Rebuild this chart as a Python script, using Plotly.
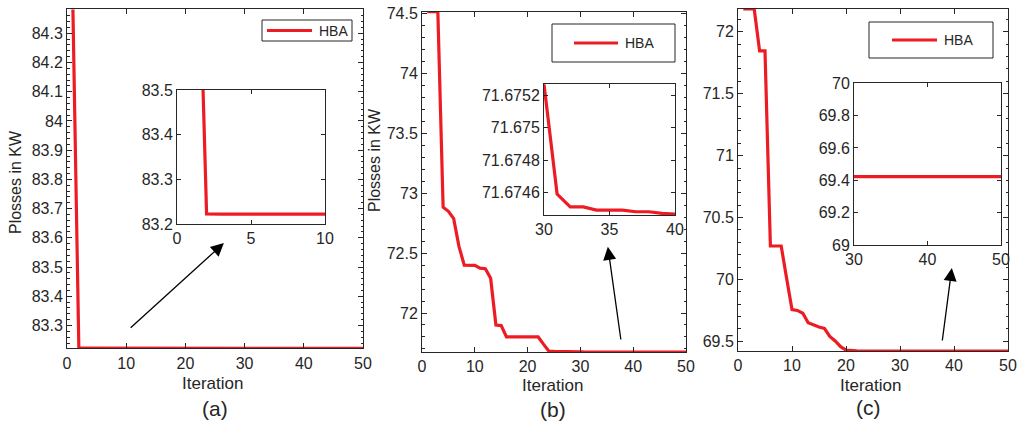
import plotly.graph_objects as go

# ---- data -------------------------------------------------------------
iterations = list(range(1, 51))

# (a) case: power loss per iteration (kW)
loss_a = [84.382, 83.2224, 83.2223, 83.2222, 83.2221, 83.2220, 83.2220, 83.2220, 83.2220, 83.2220,
          83.2220, 83.2220, 83.2220, 83.2220, 83.2220, 83.2220, 83.2220, 83.2220, 83.2220, 83.2220,
          83.2220, 83.2220, 83.2220, 83.2220, 83.2220, 83.2220, 83.2220, 83.2220, 83.2220, 83.2220,
          83.2220, 83.2220, 83.2220, 83.2220, 83.2220, 83.2220, 83.2220, 83.2220, 83.2220, 83.2220,
          83.2220, 83.2220, 83.2220, 83.2220, 83.2220, 83.2220, 83.2220, 83.2220, 83.2220, 83.2220]

# (b) case
loss_b = [74.515, 74.515, 74.515, 72.883, 72.849, 72.788, 72.556, 72.400, 72.399, 72.397,
          72.375, 72.370, 72.290, 71.900, 71.895, 71.800, 71.800, 71.800, 71.800, 71.800,
          71.800, 71.800, 71.740, 71.683, 71.679, 71.677, 71.6762, 71.6758, 71.6755, 71.67527,
          71.67459, 71.67451, 71.67451, 71.67449, 71.67449, 71.67449, 71.67448, 71.67448, 71.67447, 71.67446,
          71.67446, 71.67446, 71.67446, 71.67446, 71.67446, 71.67446, 71.67446, 71.67446, 71.67446, 71.67446]

# (c) case
loss_c = [72.184, 72.184, 72.184, 71.846, 71.846, 70.270, 70.270, 70.270, 70.010, 69.757,
          69.750, 69.727, 69.650, 69.632, 69.616, 69.605, 69.540, 69.503, 69.457, 69.430,
          69.424, 69.423, 69.4225, 69.4223, 69.4223, 69.4223, 69.4223, 69.4223, 69.4223, 69.4223,
          69.4223, 69.4223, 69.4223, 69.4223, 69.4223, 69.4223, 69.4223, 69.4223, 69.4223, 69.4223,
          69.4223, 69.4223, 69.4223, 69.4223, 69.4223, 69.4223, 69.4223, 69.4223, 69.4223, 69.4223]

# tick values / labels
main_x_ticks = [0, 10, 20, 30, 40, 50]
main_x_text = ["0", "10", "20", "30", "40", "50"]

a_y_ticks = [83.3, 83.4, 83.5, 83.6, 83.7, 83.8, 83.9, 84.0, 84.1, 84.2, 84.3]
a_y_text = ["83.3", "83.4", "83.5", "83.6", "83.7", "83.8", "83.9", "84", "84.1", "84.2", "84.3"]
a_in_x_ticks = [0, 5, 10]
a_in_x_text = ["0", "5", "10"]
a_in_y_ticks = [83.2, 83.3, 83.4, 83.5]
a_in_y_text = ["83.2", "83.3", "83.4", "83.5"]

b_y_ticks = [72.0, 72.5, 73.0, 73.5, 74.0, 74.5]
b_y_text = ["72", "72.5", "73", "73.5", "74", "74.5"]
b_in_x_ticks = [30, 35, 40]
b_in_x_text = ["30", "35", "40"]
b_in_y_ticks = [71.6746, 71.6748, 71.6750, 71.6752]
b_in_y_text = ["71.6746", "71.6748", "71.675", "71.6752"]

c_y_ticks = [69.5, 70.0, 70.5, 71.0, 71.5, 72.0]
c_y_text = ["69.5", "70", "70.5", "71", "71.5", "72"]
c_in_x_ticks = [30, 40, 50]
c_in_x_text = ["30", "40", "50"]
c_in_y_ticks = [69.0, 69.2, 69.4, 69.6, 69.8, 70.0]
c_in_y_text = ["69", "69.2", "69.4", "69.6", "69.8", "70"]

series_name = "HBA"
panel_labels = ["(a)", "(b)", "(c)"]
x_title = "Iteration"
y_title = "Plosses in KW"

# ---- styling helpers --------------------------------------------------
W, H = 1026, 422
RED = "#ED1C24"
INK = "#262626"
FONT = "Liberation Sans, Arial, Helvetica, sans-serif"


def px(x):
    return x / W


def py(y):
    return 1 - y / H


def axis_style(domain, rng, tickvals, ticktext, anchor, minor=None, ticklen=5):
    d = dict(
        domain=domain, range=rng, anchor=anchor, automargin=False,
        tickmode="array", tickvals=tickvals, ticktext=ticktext,
        ticks="inside", ticklen=ticklen, tickwidth=1, tickcolor=INK,
        showline=True, linecolor=INK, linewidth=1, mirror="ticks",
        showgrid=False, zeroline=False,
        tickfont=dict(family=FONT, size=16, color=INK),
    )
    if minor is not None:
        d["minor"] = dict(dtick=minor, ticks="inside", ticklen=2.5,
                          tickcolor=INK, tickwidth=1, showgrid=False)
    return d


fig = go.Figure()

line_style = dict(color=RED, width=3.2)

# main curves and their zoomed insets
fig.add_trace(go.Scatter(x=iterations, y=loss_a, mode="lines", line=line_style,
                         name=series_name, xaxis="x", yaxis="y", showlegend=False))
fig.add_trace(go.Scatter(x=iterations, y=loss_a, mode="lines", line=line_style,
                         name=series_name, xaxis="x2", yaxis="y2", showlegend=False))
fig.add_trace(go.Scatter(x=iterations, y=loss_b, mode="lines", line=line_style,
                         name=series_name, xaxis="x3", yaxis="y3", showlegend=False))
fig.add_trace(go.Scatter(x=iterations, y=loss_b, mode="lines", line=line_style,
                         name=series_name, xaxis="x4", yaxis="y4", showlegend=False))
fig.add_trace(go.Scatter(x=iterations, y=loss_c, mode="lines", line=line_style,
                         name=series_name, xaxis="x5", yaxis="y5", showlegend=False))
fig.add_trace(go.Scatter(x=iterations, y=loss_c, mode="lines", line=line_style,
                         name=series_name, xaxis="x6", yaxis="y6", showlegend=False))

layout = dict(
    width=W, height=H,
    margin=dict(l=0, r=0, t=0, b=0, autoexpand=False),
    paper_bgcolor="white", plot_bgcolor="white",
    showlegend=False,
    font=dict(family=FONT, color=INK),
    # panel (a)
    xaxis=axis_style([px(67), px(363)], [0, 50], main_x_ticks, main_x_text, "y"),
    yaxis=axis_style([py(348.3), py(9.3)], [min(loss_a), max(loss_a)], a_y_ticks, a_y_text, "x", minor=0.02),
    xaxis2=axis_style([px(177), px(325)], [0, 10], a_in_x_ticks, a_in_x_text, "y2", ticklen=4),
    yaxis2=axis_style([py(224), py(90)], [83.2, 83.5], a_in_y_ticks, a_in_y_text, "x2", ticklen=4),
    # panel (b)
    xaxis3=axis_style([px(422), px(686)], [0, 50], main_x_ticks, main_x_text, "y3"),
    yaxis3=axis_style([py(352), py(11.7)], [min(loss_b), max(loss_b)], b_y_ticks, b_y_text, "x3", minor=0.1),
    xaxis4=axis_style([px(544), px(675)], [30, 40], b_in_x_ticks, b_in_x_text, "y4", ticklen=4),
    yaxis4=axis_style([py(215), py(84.3)], [71.67446, 71.67527], b_in_y_ticks, b_in_y_text, "x4", ticklen=4),
    # panel (c)
    xaxis5=axis_style([px(738), px(1008)], [0, 50], main_x_ticks, main_x_text, "y5"),
    yaxis5=axis_style([py(351), py(9)], [min(loss_c), max(loss_c)], c_y_ticks, c_y_text, "x5", minor=0.1),
    xaxis6=axis_style([px(854), px(1001)], [30, 50], c_in_x_ticks, c_in_x_text, "y6", ticklen=4),
    yaxis6=axis_style([py(245), py(83.3)], [69.0, 70.0], c_in_y_ticks, c_in_y_text, "x6", ticklen=4),
)
fig.update_layout(**layout)

annotations = []
shapes = []


def paper_text(cx, cy, text, size, angle=0):
    return dict(x=px(cx), y=py(cy), xref="paper", yref="paper", text=text,
                xanchor="center", yanchor="middle", textangle=angle, showarrow=False,
                font=dict(family=FONT, size=size, color=INK))


# axis titles and panel captions
for cx, ty in [(212, 383), (552, 385), (870, 385)]:
    annotations.append(paper_text(cx, ty, x_title, 17))
for cx, cy, lab in [(215, 408, panel_labels[0]), (553, 409, panel_labels[1]), (868, 407, panel_labels[2])]:
    annotations.append(paper_text(cx, cy, lab, 21))
for cx, cy in [(15, 182), (375, 160)]:
    annotations.append(paper_text(cx, cy, y_title, 16, angle=-90))

# arrows pointing from the converged part of each curve to its inset
for xr, yr, head, tail in [("x", "y", (26.5, 83.582), (10.5, 83.288)),
                           ("x3", "y3", (35.2, 72.552), (37.7, 71.766)),
                           ("x5", "y5", (39.6, 70.093), (37.8, 69.495))]:
    annotations.append(dict(x=head[0], y=head[1], xref=xr, yref=yr,
                            ax=tail[0], ay=tail[1], axref=xr, ayref=yr,
                            showarrow=True, arrowhead=2, arrowsize=2.0, arrowwidth=1.3,
                            arrowcolor="black", text=""))

# legend boxes
for (x0, y0, x1, y1), (lx0, lx1, ly), tx in [((262, 20, 352, 41), (267, 312, 30.5), 317),
                                             ((552, 24, 675, 62), (574, 618, 43), 623),
                                             ((869, 22, 993, 58), (892, 937, 40), 942)]:
    shapes.append(dict(type="rect", xref="paper", yref="paper",
                       x0=px(x0), x1=px(x1), y0=py(y1), y1=py(y0),
                       line=dict(color=INK, width=1), fillcolor="white", layer="above"))
    shapes.append(dict(type="line", xref="paper", yref="paper",
                       x0=px(lx0), x1=px(lx1), y0=py(ly), y1=py(ly),
                       line=dict(color=RED, width=3), layer="above"))
    annotations.append(dict(x=px(tx), y=py(ly), xref="paper", yref="paper", text=series_name,
                            xanchor="left", yanchor="middle", showarrow=False,
                            font=dict(family=FONT, size=14, color=INK)))

fig.update_layout(annotations=annotations, shapes=shapes)
fig.write_html("out.html")
